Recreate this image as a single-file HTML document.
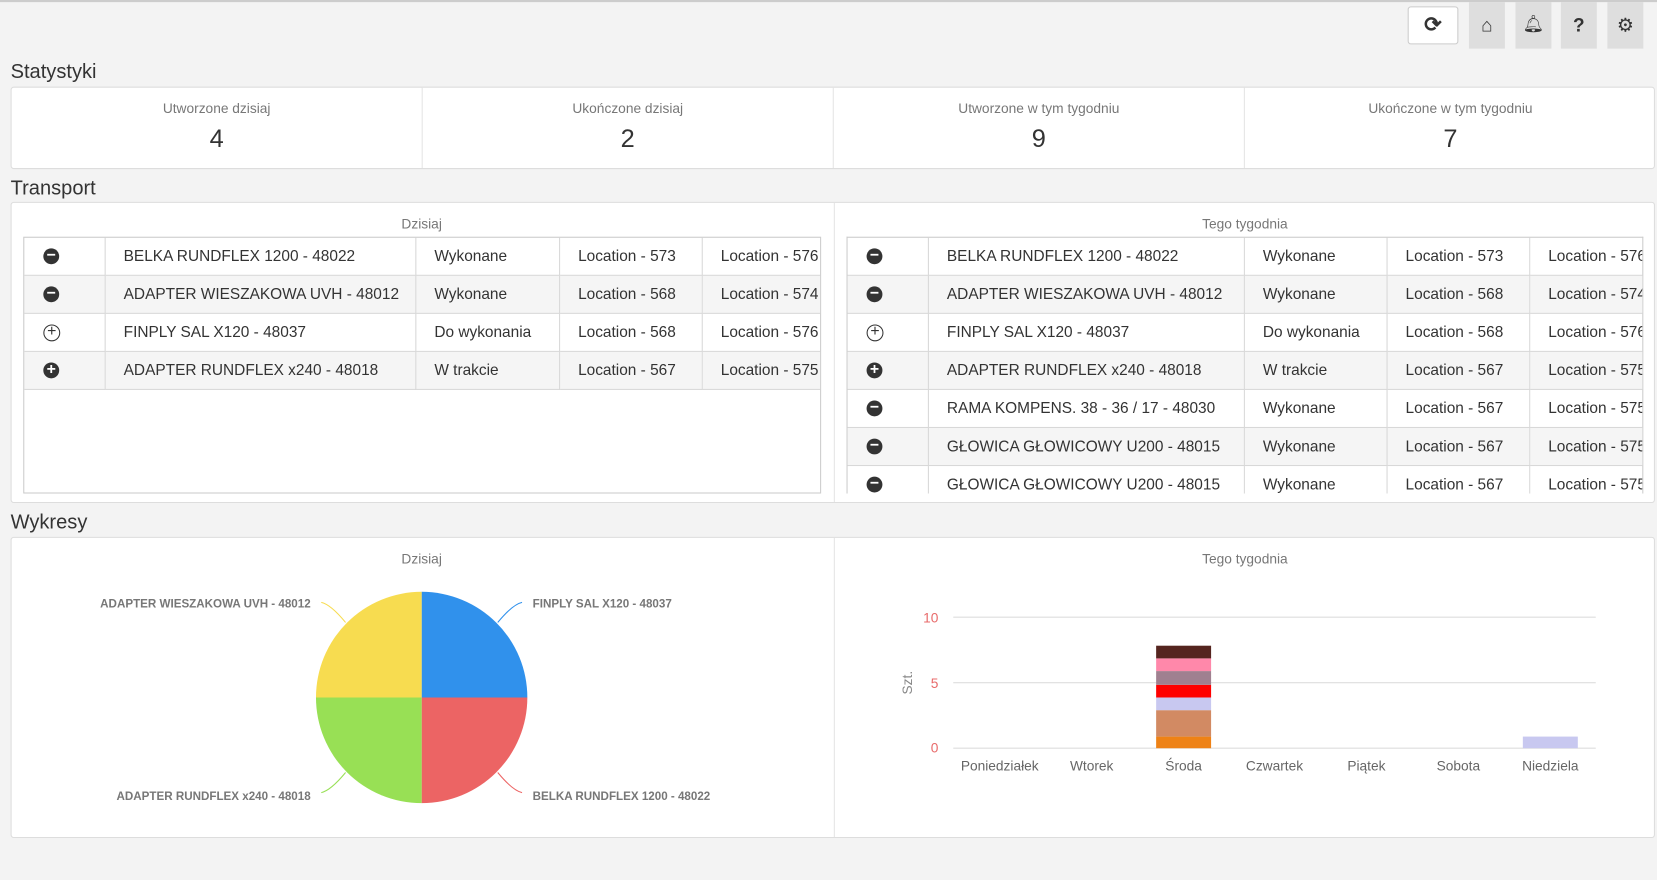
<!DOCTYPE html>
<html><head><meta charset="utf-8"><style>
*{box-sizing:border-box;margin:0;padding:0}
html,body{width:1657px;height:880px;overflow:hidden;background:#f3f3f3}
#w{width:1568px;height:833px;position:relative;transform:scale(1.0568);transform-origin:0 0;font-family:"Liberation Sans",sans-serif;color:#333}
.a{position:absolute}
.btn{position:absolute;top:2px;height:44px;width:34px;background:#dedede;text-align:center;line-height:44px;font-size:18px;color:#333}
.h{position:absolute;left:10px;font-size:19px;color:#333}
.panel{position:absolute;left:10px;width:1556px;background:#fff;border:1px solid #ddd;border-radius:3px}
.cell{position:absolute;top:0;height:100%;text-align:center;border-right:1px solid #e5e5e5}
.lab{font-size:13px;color:#777;margin-top:12px}
.num{font-size:24px;color:#333;margin-top:8px}
.tw{position:absolute;overflow:hidden;border:1px solid #ccc;background:#fff}
table{border-collapse:collapse;table-layout:fixed;font-size:14.6px;color:#333}
td{height:36px;border:1px solid #d8d8d8;white-space:nowrap;overflow:hidden;padding-left:17px}
tr:nth-child(even) td{background:#f5f5f5}
td.i{padding:0 0 0 18px;text-align:left}
.ic{display:inline-block;width:15px;height:15px;border-radius:50%;background:#333;color:#fff;font-size:15px;line-height:14px;font-weight:bold;vertical-align:middle;text-align:center}
.io{display:inline-block;width:16px;height:16px;border-radius:50%;border:1.5px solid #333;color:#333;font-size:15px;line-height:12px;vertical-align:middle;text-align:center}
.st{font-size:13px;color:#777;text-align:center;position:absolute}
</style></head><body><div id="w">
<div class="a" style="left:0;top:0;width:1568px;height:2px;background:#ccc"></div>
<div class="a" style="left:1332px;top:6px;width:48px;height:36px;background:#fff;border:1px solid #ccc;border-radius:3px;text-align:center;line-height:34px;font-size:20px;font-weight:bold">⟳</div>
<div class="btn" style="left:1390px">⌂</div>
<div class="btn" style="left:1434px;font-size:16px">🔔︎</div>
<div class="btn" style="left:1477px;font-weight:bold">?</div>
<div class="btn" style="left:1521px">⚙</div>

<div class="h" style="top:58px">Statystyki</div>
<div class="panel" style="top:82px;height:78px">
<div class="cell" style="left:0;width:389px"><div class="lab">Utworzone dzisiaj</div><div class="num">4</div></div>
<div class="cell" style="left:389px;width:389px"><div class="lab">Ukończone dzisiaj</div><div class="num">2</div></div>
<div class="cell" style="left:778px;width:389px"><div class="lab">Utworzone w tym tygodniu</div><div class="num">9</div></div>
<div class="cell" style="left:1167px;width:389px;border:none"><div class="lab">Ukończone w tym tygodniu</div><div class="num">7</div></div>
</div>

<div class="h" style="top:168px">Transport</div>
<div class="panel" style="top:191px;height:285px">
<div class="a" style="left:778px;top:0;width:1px;height:100%;background:#e5e5e5"></div>
</div>
<div class="st" style="left:10px;width:778px;top:204px">Dzisiaj</div>
<div class="st" style="left:789px;width:778px;top:204px">Tego tygodnia</div>
<div class="tw" style="left:22px;top:224px;width:755px;height:243px">
<table style="width:800px;margin:-1px"><colgroup><col style="width:77px"><col style="width:294px"><col style="width:136px"><col style="width:135px"><col style="width:158px"></colgroup>
<tr><td class="i"><span class="ic">−</span></td><td>BELKA RUNDFLEX 1200 - 48022</td><td>Wykonane</td><td>Location - 573</td><td>Location - 576</td></tr>
<tr><td class="i"><span class="ic">−</span></td><td>ADAPTER WIESZAKOWA UVH - 48012</td><td>Wykonane</td><td>Location - 568</td><td>Location - 574</td></tr>
<tr><td class="i"><span class="io">+</span></td><td>FINPLY SAL X120 - 48037</td><td>Do wykonania</td><td>Location - 568</td><td>Location - 576</td></tr>
<tr><td class="i"><span class="ic">+</span></td><td>ADAPTER RUNDFLEX x240 - 48018</td><td>W trakcie</td><td>Location - 567</td><td>Location - 575</td></tr>
</table></div>
<div class="tw" style="left:801px;top:224px;width:754px;height:243px;border-bottom:none">
<table style="width:800px;margin:-1px"><colgroup><col style="width:77px"><col style="width:299px"><col style="width:135px"><col style="width:135px"><col style="width:154px"></colgroup>
<tr><td class="i"><span class="ic">−</span></td><td>BELKA RUNDFLEX 1200 - 48022</td><td>Wykonane</td><td>Location - 573</td><td>Location - 576</td></tr>
<tr><td class="i"><span class="ic">−</span></td><td>ADAPTER WIESZAKOWA UVH - 48012</td><td>Wykonane</td><td>Location - 568</td><td>Location - 574</td></tr>
<tr><td class="i"><span class="io">+</span></td><td>FINPLY SAL X120 - 48037</td><td>Do wykonania</td><td>Location - 568</td><td>Location - 576</td></tr>
<tr><td class="i"><span class="ic">+</span></td><td>ADAPTER RUNDFLEX x240 - 48018</td><td>W trakcie</td><td>Location - 567</td><td>Location - 575</td></tr>
<tr><td class="i"><span class="ic">−</span></td><td>RAMA KOMPENS. 38 - 36 / 17 - 48030</td><td>Wykonane</td><td>Location - 567</td><td>Location - 575</td></tr>
<tr><td class="i"><span class="ic">−</span></td><td>GŁOWICA GŁOWICOWY U200 - 48015</td><td>Wykonane</td><td>Location - 567</td><td>Location - 575</td></tr>
<tr><td class="i"><span class="ic">−</span></td><td>GŁOWICA GŁOWICOWY U200 - 48015</td><td>Wykonane</td><td>Location - 567</td><td>Location - 575</td></tr>
</table></div>

<div class="h" style="top:484px">Wykresy</div>
<div class="panel" style="top:508px;height:285px">
<div class="a" style="left:778px;top:0;width:1px;height:100%;background:#e5e5e5"></div>
</div>
<div class="st" style="left:10px;width:778px;top:521px">Dzisiaj</div>
<div class="st" style="left:789px;width:778px;top:521px">Tego tygodnia</div>
<svg class="a" style="left:0;top:0" width="1568" height="833" font-family="Liberation Sans, sans-serif">
<path d="M399,660 L399,560 A100,100 0 0 1 499,660 Z" fill="#3091ec"/>
<path d="M399,660 L499,660 A100,100 0 0 1 399,760 Z" fill="#ec6464"/>
<path d="M399,660 L399,760 A100,100 0 0 1 299,660 Z" fill="#98e055"/>
<path d="M399,660 L299,660 A100,100 0 0 1 399,560 Z" fill="#f7dc50"/>
<g fill="none" stroke-width="1">
<path d="M471,589 Q485,572 494,570" stroke="#3091ec"/>
<path d="M471,731 Q485,748 494,750" stroke="#ec6464"/>
<path d="M327,731 Q313,748 304,750" stroke="#98e055"/>
<path d="M327,589 Q313,572 304,570" stroke="#f7dc50"/>
</g>
<g font-size="11" font-weight="bold" fill="#777">
<text x="504" y="575">FINPLY SAL X120 - 48037</text>
<text x="504" y="757">BELKA RUNDFLEX 1200 - 48022</text>
<text x="294" y="575" text-anchor="end">ADAPTER WIESZAKOWA UVH - 48012</text>
<text x="294" y="757" text-anchor="end">ADAPTER RUNDFLEX x240 - 48018</text>
</g>
<g stroke="#dedede"><line x1="902" y1="584" x2="1510" y2="584"/><line x1="902" y1="646" x2="1510" y2="646"/><line x1="902" y1="708" x2="1510" y2="708"/></g>
<g font-size="13" fill="#e86a6a" text-anchor="end"><text x="888" y="589">10</text><text x="888" y="651">5</text><text x="888" y="712">0</text></g>
<text transform="translate(863,646) rotate(-90)" font-size="13" fill="#888" text-anchor="middle">Szt.</text>
<rect x="1094" y="697" width="52" height="11" fill="#ee8216"/>
<rect x="1094" y="672" width="52" height="25" fill="#d28a63"/>
<rect x="1094" y="660" width="52" height="12" fill="#c8c8f0"/>
<rect x="1094" y="648" width="52" height="12" fill="#ff0000"/>
<rect x="1094" y="635" width="52" height="13" fill="#a08090"/>
<rect x="1094" y="623" width="52" height="12" fill="#ff88aa"/>
<rect x="1094" y="611" width="52" height="12" fill="#55251f"/>
<rect x="1441" y="697" width="52" height="11" fill="#c8c8f0"/>
<g font-size="13" fill="#666" text-anchor="middle">
<text x="946" y="729">Poniedziałek</text><text x="1033" y="729">Wtorek</text><text x="1120" y="729">Środa</text><text x="1206" y="729">Czwartek</text><text x="1293" y="729">Piątek</text><text x="1380" y="729">Sobota</text><text x="1467" y="729">Niedziela</text>
</g>
</svg>
</div></body></html>
